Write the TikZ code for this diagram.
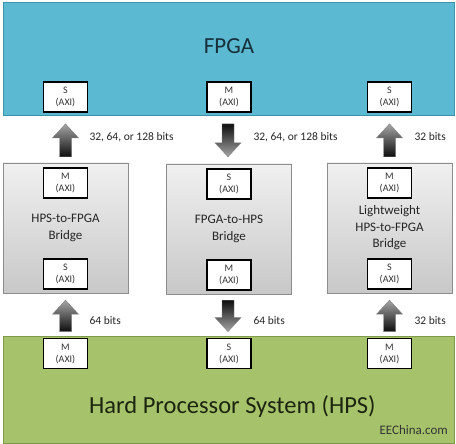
\documentclass[tikz,border=0pt]{standalone}
\usepackage{fontspec}
\setmainfont{Carlito}
\usetikzlibrary{calc}
\usetikzlibrary{positioning}

\definecolor{fpgablue}{HTML}{5BB9D1}
\definecolor{fpgaedge}{HTML}{3E93AA}
\definecolor{hpsgreen}{HTML}{A6C36B}
\definecolor{hpsedge}{HTML}{7F9A4A}
\definecolor{bridgetop}{HTML}{F0F0F0}
\definecolor{bridgebot}{HTML}{C8C8C8}
\definecolor{bridgeedge}{HTML}{8C8C8C}
\definecolor{fpgatext}{HTML}{17303B}
\definecolor{hpstext}{HTML}{1C2510}

\tikzset{
	axibox/.style= {draw, line width= 1.8pt, fill= white, minimum width= 44pt, minimum height= 30pt, inner sep= 0pt, align= center, text= black!80, font= \fontsize{10}{12}\selectfont},
	bridge/.style= {draw= bridgeedge, top color= bridgetop, bottom color= bridgebot, minimum width= 125pt, minimum height= 130pt, inner sep= 0pt, align= center, text= black!85, font= \fontsize{13}{16.5}\selectfont},
	bits/.style= {anchor= west, text= black!85, font= \fontsize{11.5}{13}\selectfont},
	upbus/.style= {draw= gray, top color= black!35, bottom color= black!95},
	downbus/.style= {draw= gray, top color= black!95, bottom color= black!35},
}

% block arrow: style, tail, head tip, +1 up / -1 down
\newcommand{\busarrow}[4]{%
	\path[#1] ($(#2)+(-6,0)$) -- ($(#3)+(-6,#4*14)$) -- ($(#3)+(-13,#4*14)$) -- (#3)
		-- ($(#3)+(13,#4*14)$) -- ($(#3)+(6,#4*14)$) -- ($(#2)+(6,0)$) -- cycle;
}

\begin{document}
\begin{tikzpicture}[x= 1pt, y= -1pt]
	\useasboundingbox (0,0) rectangle (456,444);

	% fpga
	\node [draw= fpgaedge, fill= fpgablue, minimum width= 451pt, minimum height= 113pt, inner sep= 0pt] (fpga) at (228.5,58.5) {};
	\node [text= fpgatext, font= \fontsize{23}{26}\selectfont] (fpgalabel) at (229,46) {FPGA};
	\node [axibox] (fs1) at (65.5,97) {S\\(AXI)};
	\node [axibox] (fm2) at (229,97) {M\\(AXI)};
	\node [axibox] (fs3) at (389.5,97) {S\\(AXI)};

	% bridges
	\node [bridge] (hb1) at (65.5,228) {HPS-to-FPGA\\Bridge};
	\node [bridge] (hb2) at (229,229) {FPGA-to-HPS\\Bridge};
	\node [bridge] (hb3) at (389.5,228) {Lightweight\\HPS-to-FPGA\\Bridge};
	\node [axibox, below= 4pt of hb1.north] (hm1) {M\\(AXI)};
	\node [axibox, above= 3pt of hb1.south] (hs1) {S\\(AXI)};
	\node [axibox, below= 4pt of hb2.north] (hs2) {S\\(AXI)};
	\node [axibox, above= 3pt of hb2.south] (hm2) {M\\(AXI)};
	\node [axibox, below= 4pt of hb3.north] (hm3) {M\\(AXI)};
	\node [axibox, above= 3pt of hb3.south] (hs3) {S\\(AXI)};

	% hps
	\node [draw= hpsedge, fill= hpsgreen, minimum width= 451pt, minimum height= 107pt, inner sep= 0pt] (hps) at (228.5,389.5) {};
	\node [axibox] (pm1) at (65.5,353.5) {M\\(AXI)};
	\node [axibox] (ps2) at (229,353.5) {S\\(AXI)};
	\node [axibox] (pm3) at (389.5,353.5) {M\\(AXI)};
	\node [anchor= base west, inner sep= 0pt, text= hpstext, font= \fontsize{24.5}{28}\selectfont] (hpslabel) at (89,413) {Hard Processor System (HPS)};
	\node [anchor= base east, inner sep= 0pt, text= black!80, font= \fontsize{13}{15}\selectfont] (site) at (448,434) {EEChina.com};

	% buses fpga <-> bridges
	\busarrow{upbus}{$(hb1.north)+(0,-6)$}{$(fs1.south)+(0,11)$}{1}
	\busarrow{downbus}{$(fm2.south)+(-1,11)$}{$(hb2.north)+(-1,-7)$}{-1}
	\busarrow{upbus}{$(hb3.north)+(0,-6)$}{$(fs3.south)+(0,11)$}{1}
	\node [bits] (w1) at (86,137) {32, 64, or 128 bits};
	\node [bits] (w2) at (250,137) {32, 64, or 128 bits};
	\node [bits] (w3) at (411,137) {32 bits};

	% buses bridges <-> hps
	\busarrow{upbus}{$(pm1.north)+(0,-6)$}{$(hs1.south)+(0,10)$}{1}
	\busarrow{downbus}{$(hm2.south)+(-1,9)$}{$(ps2.north)+(-1,-6)$}{-1}
	\busarrow{upbus}{$(pm3.north)+(0,-6)$}{$(hs3.south)+(0,10)$}{1}
	\node [bits] (w4) at (86,321) {64 bits};
	\node [bits] (w5) at (250,321) {64 bits};
	\node [bits] (w6) at (411,321) {32 bits};
\end{tikzpicture}
\end{document}
